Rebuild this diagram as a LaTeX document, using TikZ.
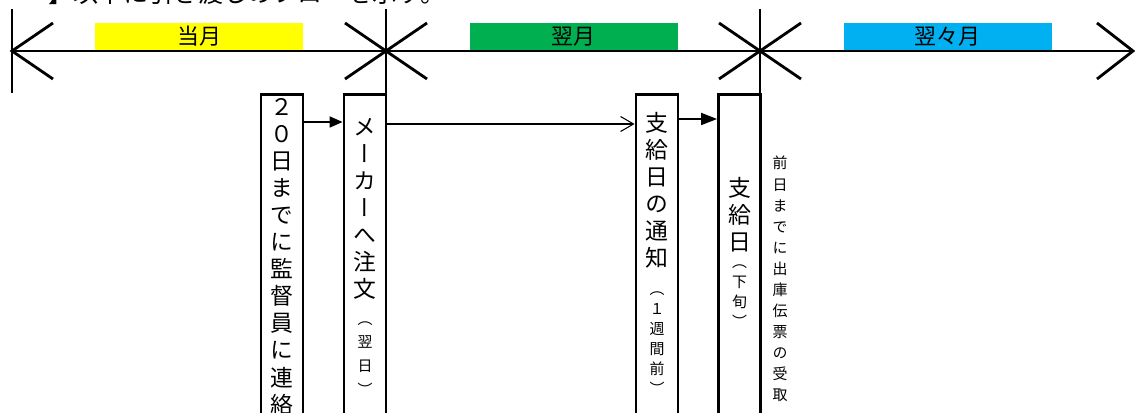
\documentclass[tikz,border=0pt]{standalone}
\usepackage{fontspec}
\newfontfamily\jp{Noto Sans CJK JP}
\newfontfamily\vjp[RawFeature=+vert]{Noto Sans CJK JP}
\usetikzlibrary{arrows.meta,positioning}
\definecolor{monthY}{HTML}{FFFF00}
\definecolor{monthG}{HTML}{00B050}
\definecolor{monthB}{HTML}{00B0F0}
\tikzset{
  tl/.style={line width=1.6pt},
  month/.style={minimum width=4.16cm,minimum height=0.54cm,inner sep=0pt,font=\jp\fontsize{12.5}{14}\selectfont},
  box/.style={draw,line width=1.6pt,minimum width=0.84cm,minimum height=7cm,anchor=north,inner sep=0pt},
  vbig/.style={align=center,inner sep=0pt,font=\vjp\fontsize{13}{15.4}\selectfont},
  vsmall/.style={align=center,inner sep=0pt,font=\vjp\fontsize{8.5}{11.4}\selectfont},
  vside/.style={align=center,inner sep=0pt,font=\vjp\fontsize{8.5}{12}\selectfont},
}

\begin{document}
\begin{tikzpicture}
\useasboundingbox (0,0) rectangle (22.7,8.26);
\clip (0,0) rectangle (22.7,8.26);
% heading, cut off at the top
\node[anchor=base west,inner sep=0pt,font=\jp\fontsize{14.2}{17}\selectfont] (head) at (0.96,8.21) {】以下に引き渡しのフローを示す。};
% months
\node[month,fill=monthY] (cur) at (3.98,7.53) {当月};
\node[month,fill=monthG] (next) at (11.47,7.53) {翌月};
\node[month,fill=monthB] (after) at (18.95,7.53) {翌々月};
% time line
\draw[tl] (0.24,7.24) -- (22.66,7.24);
\draw[tl] (0.24,8.08) -- (0.24,6.4);
\draw[tl] (7.72,8.08) -- (7.72,-0.3);
\draw[tl] (15.2,8.08) -- (15.2,-0.3);
\draw[tl] (1.06,7.8) -- (0.24,7.24) -- (1.06,6.68);
\foreach \x in {7.72,15.2}
  \draw[tl] (\x-0.82,7.8) -- (\x+0.82,6.68) (\x-0.82,6.68) -- (\x+0.82,7.8);
\draw[tl] (21.94,7.8) -- (22.66,7.24) -- (21.94,6.68);
% boxes
\node[box] (contact) at (5.64,6.4) {};
\node[box] (order) at (7.3,6.4) {};
\node[box] (notice) at (13.14,6.4) {};
\node[box] (supply) at (14.79,6.4) {};
% texts
\node[vbig,below=0.1cm of contact.north] (contactT) {２\\０\\日\\ま\\で\\に\\監\\督\\員\\に\\連\\絡};
\node[vbig,below=0.5cm of order.north] (orderT) {メ\\ー\\カ\\ー\\へ\\注\\文};
\node[vsmall,below=0.42cm of orderT,font=\vjp\fontsize{8.5}{13.5}\selectfont] (orderS) {（\\翌\\日\\）};
\node[vbig,below=0.38cm of notice.north] (noticeT) {支\\給\\日\\の\\通\\知};
\node[vsmall,below=0.45cm of noticeT] (noticeS) {（\\１\\週\\間\\前\\）};
\node[vbig,below=1.68cm of supply.north] (supplyT) {支\\給\\日};
\node[vsmall,below=0.24cm of supplyT] (supplyS) {（\\下\\旬\\）};
\node[vside,anchor=north] (slip) at (15.6,5.14) {前\\日\\ま\\で\\に\\出\\庫\\伝\\票\\の\\受\\取};
% flow
\draw[line width=1pt,-{Triangle[length=0.26cm,width=0.22cm]}] ([yshift=-0.58cm]contact.north east) -- ([yshift=-0.58cm]order.north west);
\draw[line width=0.6pt,-{Straight Barb[length=0.26cm,width=0.3cm]}] ([yshift=-0.62cm]order.north east) -- ([yshift=-0.62cm]notice.north west);
\draw[line width=1pt,-{Triangle[length=0.32cm,width=0.24cm]}] ([yshift=-0.52cm]notice.north east) -- ([yshift=-0.52cm]supply.north west);
\end{tikzpicture}
\end{document}
